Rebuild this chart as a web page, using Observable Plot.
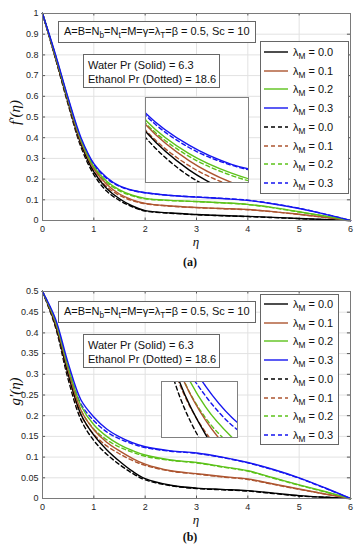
<!DOCTYPE html>
<html><head><meta charset="utf-8">
<script src="https://cdn.jsdelivr.net/npm/d3@7"></script>
<script src="https://cdn.jsdelivr.net/npm/@observablehq/plot@0.6"></script>
<style>
body{margin:0;background:#fff;}
#root{position:relative;width:359px;height:550px;overflow:hidden;font-family:"Liberation Sans",Arial,sans-serif;color:#111;}
.abs{position:absolute;}
.box{position:absolute;border:1px solid #666;background:#fff;font-size:11px;box-sizing:border-box;white-space:nowrap;}
sub{font-size:0.75em;vertical-align:-0.35em;line-height:0;}
.ser{font-family:"Liberation Serif","DejaVu Serif",serif;font-style:italic;font-size:13px;}
.ylab{font-family:"Liberation Serif","DejaVu Serif",serif;font-style:italic;font-size:15px;}
.cap{font-family:"Liberation Serif","DejaVu Serif",serif;font-weight:bold;font-size:12px;}
.leg{position:absolute;border:1px solid #666;background:#fff;box-sizing:border-box;font-size:11px;}
.row{position:absolute;left:2px;height:14px;display:flex;align-items:center;}
.inset{position:absolute;border:1px solid #808080;background:#fff;box-sizing:border-box;overflow:hidden;}
</style></head><body><div id="root"></div><script>
// ---- data ----
const eta = [0, 0.25, 0.5, 0.75, 1, 1.25, 1.5, 1.75, 2, 2.5, 3, 3.5, 4, 4.5, 5, 5.5, 6];
const lambdaM = ["0.0", "0.1", "0.2", "0.3"];
const seriesColors = ["#000000", "#ad5530", "#5cc21a", "#1515f0"];
const xTicks = [0, 1, 2, 3, 4, 5, 6];
const yTicksA = [0, 0.1, 0.2, 0.3, 0.4, 0.5, 0.6, 0.7, 0.8, 0.9, 1];
const yTicksB = [0, 0.05, 0.1, 0.15, 0.2, 0.25, 0.3, 0.35, 0.4, 0.45, 0.5];

// f'(eta), water (solid)
const fWater0 = [1, 0.79, 0.57, 0.37, 0.235, 0.155, 0.105, 0.07, 0.048, 0.036, 0.029, 0.024, 0.02, 0.015, 0.01, 0.005, 0];
const fWater1 = [1, 0.795, 0.578, 0.38, 0.25, 0.175, 0.128, 0.1, 0.083, 0.07, 0.063, 0.058, 0.053, 0.043, 0.03, 0.016, 0];
const fWater2 = [1, 0.80, 0.585, 0.39, 0.26, 0.19, 0.148, 0.122, 0.107, 0.097, 0.092, 0.086, 0.078, 0.062, 0.042, 0.022, 0];
const fWater3 = [1, 0.805, 0.592, 0.40, 0.275, 0.208, 0.167, 0.146, 0.134, 0.121, 0.113, 0.106, 0.097, 0.08, 0.058, 0.031, 0];
// f'(eta), ethanol (dashed)
const fEthanol0 = [1, 0.785, 0.56, 0.355, 0.222, 0.142, 0.097, 0.066, 0.046, 0.035, 0.028, 0.023, 0.019, 0.014, 0.009, 0.004, 0];
const fEthanol1 = [1, 0.79, 0.568, 0.367, 0.238, 0.164, 0.121, 0.096, 0.081, 0.069, 0.062, 0.057, 0.052, 0.042, 0.029, 0.015, 0];
const fEthanol2 = [1, 0.795, 0.576, 0.378, 0.253, 0.184, 0.143, 0.119, 0.105, 0.096, 0.091, 0.085, 0.077, 0.061, 0.041, 0.021, 0];
const fEthanol3 = [1, 0.80, 0.585, 0.392, 0.27, 0.203, 0.165, 0.145, 0.134, 0.121, 0.114, 0.107, 0.098, 0.081, 0.059, 0.031, 0];
// g'(eta), water (solid)
const gWater0 = [0.5, 0.42, 0.3, 0.203, 0.153, 0.118, 0.09, 0.066, 0.048, 0.032, 0.025, 0.022, 0.019, 0.013, 0.007, 0.003, 0];
const gWater1 = [0.5, 0.425, 0.31, 0.213, 0.166, 0.136, 0.115, 0.097, 0.083, 0.067, 0.06, 0.053, 0.047, 0.035, 0.023, 0.011, 0];
const gWater2 = [0.5, 0.43, 0.318, 0.224, 0.178, 0.15, 0.13, 0.116, 0.105, 0.093, 0.087, 0.077, 0.067, 0.05, 0.033, 0.017, 0];
const gWater3 = [0.5, 0.435, 0.327, 0.238, 0.197, 0.168, 0.149, 0.135, 0.125, 0.115, 0.11, 0.1, 0.087, 0.07, 0.05, 0.026, 0];
// g'(eta), ethanol (dashed)
const gEthanol0 = [0.5, 0.415, 0.288, 0.19, 0.14, 0.107, 0.082, 0.061, 0.045, 0.031, 0.024, 0.021, 0.018, 0.012, 0.006, 0.003, 0];
const gEthanol1 = [0.5, 0.42, 0.298, 0.201, 0.155, 0.127, 0.108, 0.092, 0.08, 0.066, 0.059, 0.052, 0.046, 0.034, 0.022, 0.011, 0];
const gEthanol2 = [0.5, 0.425, 0.307, 0.213, 0.168, 0.142, 0.124, 0.112, 0.102, 0.092, 0.086, 0.076, 0.066, 0.049, 0.032, 0.016, 0];
const gEthanol3 = [0.5, 0.43, 0.317, 0.228, 0.188, 0.161, 0.144, 0.132, 0.123, 0.114, 0.109, 0.099, 0.086, 0.069, 0.049, 0.025, 0];

const fWater = [fWater0, fWater1, fWater2, fWater3];
const fEthanol = [fEthanol0, fEthanol1, fEthanol2, fEthanol3];
const gWater = [gWater0, gWater1, gWater2, gWater3];
const gEthanol = [gEthanol0, gEthanol1, gEthanol2, gEthanol3];

// ---- helpers ----
const root = document.getElementById("root");
const DASH = "4,3";
function toRows(vals) { return eta.map((e, i) => ({eta: e, v: vals[i]})); }
function lineMarks(water, ethanol, opts = {}) {
  const marks = [];
  for (let k = 0; k < 4; k++) {
    marks.push(Plot.line(toRows(ethanol[k]), {x: "eta", y: "v", stroke: seriesColors[k], strokeWidth: 1.4, strokeDasharray: DASH, curve: "catmull-rom", ...opts}));
  }
  for (let k = 0; k < 4; k++) {
    marks.push(Plot.line(toRows(water[k]), {x: "eta", y: "v", stroke: seriesColors[k], strokeWidth: 1.4, curve: "catmull-rom", ...opts}));
  }
  return marks;
}
function place(el, left, top) {
  const d = document.createElement("div");
  d.className = "abs"; d.style.left = left + "px"; d.style.top = top + "px";
  d.appendChild(el); root.appendChild(d); return d;
}
function mainPlot(water, ethanol, yMax, yTicks) {
  const tk = yMax * 0.012;
  return Plot.plot({
    width: 359, height: 250,
    marginLeft: 42, marginRight: 9, marginTop: 13, marginBottom: 30,
    x: {domain: [0, 6]},
    y: {domain: [0, yMax]},
    style: {fontFamily: "'Liberation Sans', Arial, sans-serif", fontSize: "9px", color: "#262626", background: "transparent", overflow: "visible"},
    marks: [
      Plot.gridX(xTicks, {stroke: "#e2e2e2", strokeOpacity: 1}),
      Plot.gridY(yTicks, {stroke: "#e2e2e2", strokeOpacity: 1}),
      Plot.axisX(xTicks, {tickSize: 0, tickPadding: 5, label: null, tickFormat: d => String(d)}),
      Plot.axisY(yTicks, {tickSize: 0, tickPadding: 4, label: null, tickFormat: d => String(d)}),
      Plot.ruleX(xTicks, {x: d => d, y1: 0, y2: tk, stroke: "#555"}),
      Plot.ruleX(xTicks, {x: d => d, y1: yMax - tk, y2: yMax, stroke: "#555"}),
      Plot.ruleY(yTicks, {y: d => d, x1: 0, x2: 0.06, stroke: "#555"}),
      Plot.ruleY(yTicks, {y: d => d, x1: 5.94, x2: 6, stroke: "#555"}),
      ...lineMarks(water, ethanol),
      Plot.frame({stroke: "#7a7a7a"})
    ]
  });
}
function insetPlot(water, ethanol, w, h, xd, yd) {
  return Plot.plot({
    width: w, height: h, margin: 0,
    x: {domain: xd, axis: null},
    y: {domain: yd, axis: null},
    style: {background: "transparent"},
    marks: lineMarks(water, ethanol, {clip: true})
  });
}
function addBoxes(top) {
  const b1 = document.createElement("div");
  b1.className = "box";
  Object.assign(b1.style, {left: "58px", top: (top) + "px", width: "198px", height: "22px", padding: "3px 0 0 5px"});
  b1.innerHTML = "A=B=N<sub>b</sub>=N<sub>t</sub>=M=γ=λ<sub>T</sub>=β = 0.5, Sc = 10";
  root.appendChild(b1);
  const b2 = document.createElement("div");
  b2.className = "box";
  Object.assign(b2.style, {left: "83px", top: (top + 33) + "px", width: "137px", height: "34px", padding: "3px 0 0 4px", lineHeight: "14px"});
  b2.innerHTML = "Water Pr (Solid) = 6.3<br>Ethanol Pr (Dotted) = 18.6";
  root.appendChild(b2);
}
function addLegend(left, top, width, height, firstY) {
  const lg = document.createElement("div");
  lg.className = "leg";
  Object.assign(lg.style, {left: left + "px", top: top + "px", width: width + "px", height: height + "px"});
  for (let i = 0; i < 8; i++) {
    const k = i % 4, dashed = i >= 4;
    const r = document.createElement("div");
    r.className = "row";
    r.style.top = (firstY + i * 18.7 - 7) + "px";
    r.innerHTML = `<svg width="26" height="6" style="margin-right:4px"><line x1="1" y1="3" x2="25" y2="3" stroke="${seriesColors[k]}" stroke-width="1.4" ${dashed ? `stroke-dasharray="${DASH}"` : ""}/></svg><span>λ<sub>M</sub> = ${lambdaM[k]}</span>`;
    lg.appendChild(r);
  }
  root.appendChild(lg);
}
function addText(html, cls, left, top, width, rotate) {
  const d = document.createElement("div");
  d.className = "abs " + cls;
  Object.assign(d.style, {left: left + "px", top: top + "px", width: width + "px", textAlign: "center"});
  if (rotate) d.style.transform = "rotate(-90deg)";
  d.innerHTML = html;
  root.appendChild(d);
}
function addInset(plot, left, top, w, h) {
  const d = document.createElement("div");
  d.className = "inset";
  Object.assign(d.style, {left: left + "px", top: top + "px", width: w + "px", height: h + "px"});
  d.appendChild(plot);
  root.appendChild(d);
}

// ---- panel (a) ----
place(mainPlot(fWater, fEthanol, 1, yTicksA), 0, 0);
addBoxes(21);
addLegend(260, 41, 89, 153, 10);
addInset(insetPlot(fWater, fEthanol, 102, 84, [1.0, 1.6], [0.128, 0.308]), 145, 97, 104, 86);
addText("f′(η)", "ylab", -20, 104, 70, true);
addText("η", "ser", 186, 234, 20);
addText("(a)", "cap", 175, 255, 30);

// ---- panel (b) ----
place(mainPlot(gWater, gEthanol, 0.5, yTicksB), 0, 278);
addBoxes(301);
addLegend(260, 294, 79, 151, 9);
addInset(insetPlot(gWater, gEthanol, 75, 55, [0.6, 1.3], [0.15, 0.2]), 161, 381, 77, 57);
addText("g′(η)", "ylab", -20, 383, 70, true);
addText("η", "ser", 186, 512, 20);
addText("(b)", "cap", 175, 530, 30);
</script></body></html>
